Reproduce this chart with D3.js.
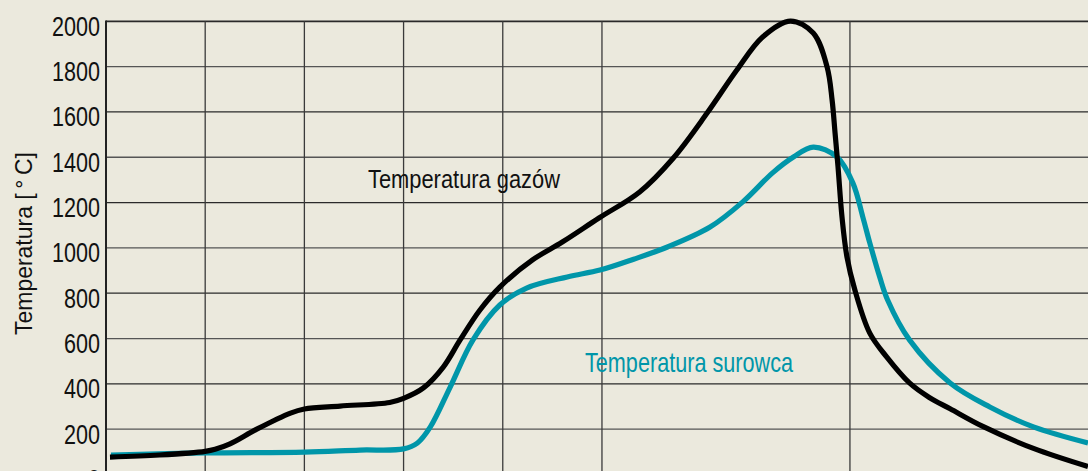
<!DOCTYPE html>
<html>
<head>
<meta charset="utf-8">
<script src="https://cdn.jsdelivr.net/npm/d3@7"></script>
<style>
  html, body { margin: 0; padding: 0; background: #ebe9dd; overflow: hidden; }
  svg { display: block; }
  text { font-family: "Liberation Sans Narrow", "Liberation Sans", "DejaVu Sans", sans-serif; }
</style>
</head>
<body>
<svg id="chart" width="1088" height="471"></svg>
<script>
// temperature profile: gas vs. charge (ore)
var yTicks = [0, 200, 400, 600, 800, 1000, 1200, 1400, 1600, 1800, 2000];
var xGrid = [1, 2, 3, 4, 5, 7.5];

// temperatura gazów
var gasTime = [0.04, 0.54, 1.0, 1.1, 1.25, 1.52, 1.86, 2.0, 2.36, 2.86, 3.0, 3.2, 3.4, 3.57, 3.77, 3.97, 4.3, 4.6, 4.97, 5.38, 5.72, 6.06, 6.36, 6.62, 6.9, 7.13, 7.27, 7.32, 7.35, 7.38, 7.42, 7.47, 7.55, 7.7, 7.87, 8.1, 8.3, 8.51, 8.84, 9.35, 9.9];
var gasTemp = [77, 86, 102, 111, 135, 200, 271, 289, 302, 318, 336, 382, 474, 594, 726, 827, 947, 1026, 1132, 1247, 1397, 1595, 1785, 1931, 2001, 1948, 1798, 1653, 1507, 1357, 1136, 960, 814, 624, 519, 404, 340, 290, 212, 115, 35];

// temperatura surowca
var oreTime = [0.05, 1.0, 2.0, 2.56, 3.0, 3.14, 3.27, 3.47, 3.7, 3.97, 4.24, 4.65, 4.98, 5.32, 5.66, 6.09, 6.42, 6.72, 6.93, 7.13, 7.37, 7.53, 7.63, 7.7, 7.8, 7.88, 8.1, 8.51, 8.91, 9.35, 9.9];
var oreTemp = [86, 95, 99, 108, 113, 139, 210, 386, 594, 748, 823, 872, 902, 950, 1004, 1092, 1203, 1331, 1401, 1445, 1401, 1286, 1136, 1022, 872, 770, 594, 404, 298, 210, 139];

(function() {
  var W = 1088, H = 471
      , left = 106, top = 21.3
      , svg = d3.select('#chart')
      ;

  var x = d3.scaleLinear().domain([0, 9.9]).range([left, W])
      , y = d3.scaleLinear().domain([0, 2000]).range([474.5, top])
      ;

  var grid = svg.append('g').attr('class', 'grid');

  // horizontal lines
  grid.selectAll('line.h')
    .data(yTicks)
    .enter().append('line')
    .attr('class', 'h')
    .attr('x1', left).attr('x2', W)
    .attr('y1', function(d) { return y(d); })
    .attr('y2', function(d) { return y(d); })
    .attr('stroke', function(d, i) { return i % 2 ? '#555' : '#2a2a2a'; })
    .attr('stroke-width', function(d) { return d === 2000 ? 1.8 : 1.3; });

  // vertical lines
  grid.selectAll('line.v')
    .data(xGrid)
    .enter().append('line')
    .attr('class', 'v')
    .attr('x1', function(d) { return x(d); })
    .attr('x2', function(d) { return x(d); })
    .attr('y1', top).attr('y2', H)
    .attr('stroke', '#3a3a3a')
    .attr('stroke-width', 1.3);

  // left axis line
  svg.append('line')
    .attr('x1', left).attr('x2', left)
    .attr('y1', top - 0.8).attr('y2', H)
    .attr('stroke', '#222')
    .attr('stroke-width', 2);

  // tick labels, squeezed to the narrow look of the original
  svg.append('g')
    .selectAll('text')
    .data(yTicks)
    .enter().append('text')
    .attr('x', 100)
    .attr('y', function(d) { return y(d) + 14.5; })
    .attr('text-anchor', 'end')
    .attr('font-size', 27)
    .attr('fill', '#111')
    .attr('textLength', function(d) { return String(d).length * 12; })
    .attr('lengthAdjust', 'spacingAndGlyphs')
    .text(function(d) { return d; });

  svg.append('text')
    .attr('transform', 'translate(32,243.5) rotate(-90)')
    .attr('text-anchor', 'middle')
    .attr('font-size', 24)
    .attr('fill', '#111')
    .attr('textLength', 183)
    .attr('lengthAdjust', 'spacingAndGlyphs')
    .text('Temperatura [\u2009\u00b0\u2009C]');

  var line = d3.line()
      .x(function(d) { return x(d[0]); })
      .y(function(d) { return y(d[1]); })
      .curve(d3.curveCatmullRom.alpha(0.5))
      ;

  var series = [
    {name: 'Temperatura surowca', t: oreTime, v: oreTemp, color: '#0096a9'},
    {name: 'Temperatura gazów', t: gasTime, v: gasTemp, color: '#000'}
  ];

  svg.append('g')
    .selectAll('path')
    .data(series)
    .enter().append('path')
    .attr('d', function(s) { return line(d3.zip(s.t, s.v)); })
    .attr('fill', 'none')
    .attr('stroke', function(s) { return s.color; })
    .attr('stroke-width', 5.2)
    .attr('stroke-linejoin', 'round');

  svg.append('text')
    .attr('x', 368).attr('y', 188)
    .attr('font-size', 26)
    .attr('fill', '#111')
    .attr('textLength', 192)
    .attr('lengthAdjust', 'spacingAndGlyphs')
    .text('Temperatura gazów');

  svg.append('text')
    .attr('x', 585).attr('y', 372)
    .attr('font-size', 28)
    .attr('fill', '#0096a9')
    .attr('textLength', 208)
    .attr('lengthAdjust', 'spacingAndGlyphs')
    .text('Temperatura surowca');
})();
</script>
</body>
</html>
